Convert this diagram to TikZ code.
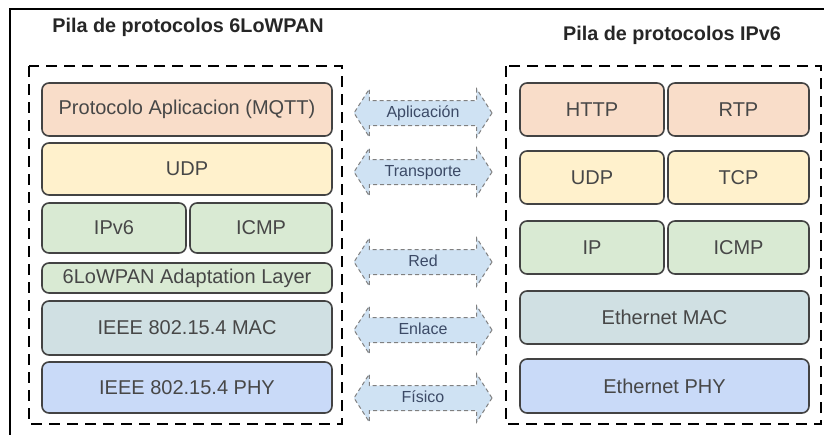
\documentclass[tikz,border=0pt]{standalone}
\usepackage{fontspec}
\setmainfont{Liberation Sans}
\usetikzlibrary{shapes.arrows}
\definecolor{cApp}{HTML}{F9DDC9}
\definecolor{cTr}{HTML}{FFF1CC}
\definecolor{cNet}{HTML}{D9EAD3}
\definecolor{cMac}{HTML}{D0E0E3}
\definecolor{cPhy}{HTML}{C9DAF8}
\definecolor{cArr}{HTML}{CFE2F3}
\definecolor{cLine}{HTML}{434343}
\definecolor{cTxt}{HTML}{474747}
\definecolor{cArrTxt}{HTML}{3C4A66}
\begin{document}
\begin{tikzpicture}[x=1pt,y=-1pt,
  layer/.style={draw=cLine, line width=1.6pt, rounded corners=7pt, text=cTxt,
    font=\fontsize{20}{22}\selectfont, inner sep=0pt},
  stack/.style={draw=black, line width=2.6pt, dash pattern=on 11pt off 7pt},
  ttl/.style={font=\bfseries\fontsize{19.8}{22}\selectfont, text=black!85},
  peer/.style={double arrow, draw=black!50, dash pattern=on 4pt off 3pt, line width=1pt, fill=cArr,
    double arrow head extend=11.5pt, double arrow tip angle=115,
    minimum height=138pt, text height=11pt, text depth=3pt, inner ysep=5pt,
    inner xsep=2pt, font=\fontsize{16}{18}\selectfont, text=cArrTxt}]
\useasboundingbox (0,0) rectangle (824,434);
% outer frame
\draw[line width=1.6pt] (10,440) -- (10,9) -- (830,9);
% titles
\node[ttl] (t1) at (188,27) {Pila de protocolos 6LoWPAN};
\node[ttl] (t2) at (672,35) {Pila de protocolos IPv6};
% dashed stacks
\draw[stack] (29,66) rectangle (342,424);
\draw[stack] (506,66) rectangle (821,424);
% left stack
\node[layer, fill=cApp, minimum width=290pt, minimum height=53pt] (lapp) at (187,109.5) {Protocolo Aplicacion (MQTT)};
\node[layer, fill=cTr, minimum width=290pt, minimum height=52pt] (ludp) at (187,169) {UDP};
\node[layer, fill=cNet, minimum width=144pt, minimum height=50pt] (lipv6) at (114,228) {IPv6};
\node[layer, fill=cNet, minimum width=142pt, minimum height=50pt] (licmp) at (261,228) {ICMP};
\node[layer, fill=cNet, minimum width=290pt, minimum height=30pt] (ladapt) at (187,278) {6LoWPAN Adaptation Layer};
\node[layer, fill=cMac, minimum width=290pt, minimum height=54pt] (lmac) at (187,328) {IEEE 802.15.4 MAC};
\node[layer, fill=cPhy, minimum width=290pt, minimum height=51pt] (lphy) at (187,387.5) {IEEE 802.15.4 PHY};
% right stack
\node[layer, fill=cApp, minimum width=144pt, minimum height=53pt] (rhttp) at (592,109.5) {HTTP};
\node[layer, fill=cApp, minimum width=141pt, minimum height=53pt] (rrtp) at (738.5,109.5) {RTP};
\node[layer, fill=cTr, minimum width=144pt, minimum height=53pt] (rudp) at (592,177.5) {UDP};
\node[layer, fill=cTr, minimum width=141pt, minimum height=53pt] (rtcp) at (738.5,177.5) {TCP};
\node[layer, fill=cNet, minimum width=144pt, minimum height=53pt] (rip) at (592,247.5) {IP};
\node[layer, fill=cNet, minimum width=141pt, minimum height=53pt] (ricmp) at (738.5,247.5) {ICMP};
\node[layer, fill=cMac, minimum width=289pt, minimum height=53pt] (rmac) at (664.5,317.5) {Ethernet MAC};
\node[layer, fill=cPhy, minimum width=289pt, minimum height=54pt] (rphy) at (664.5,386) {Ethernet PHY};
% peer arrows
\node[peer] (a1) at (423,113) {Aplicación};
\node[peer] (a2) at (423,172) {Transporte};
\node[peer] (a3) at (423,262) {Red};
\node[peer] (a4) at (423,330) {Enlace};
\node[peer] (a5) at (423,398) {Físico};
\end{tikzpicture}
\end{document}
